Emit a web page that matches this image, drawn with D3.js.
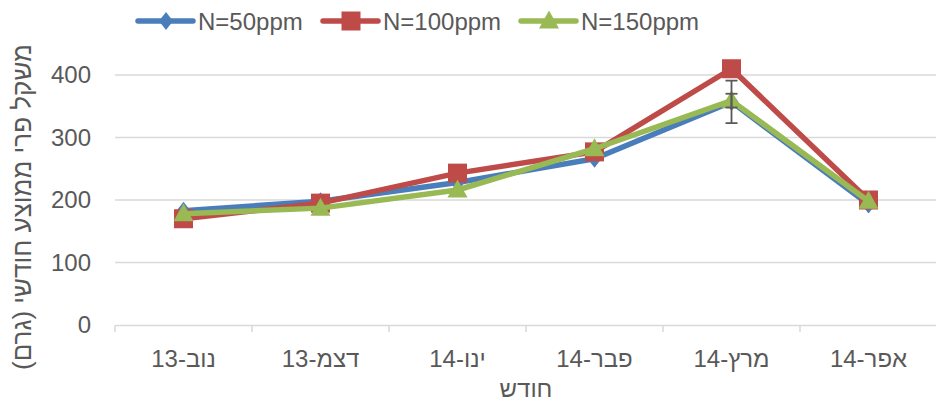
<!DOCTYPE html>
<html>
<head>
<meta charset="utf-8">
<script src="https://cdn.jsdelivr.net/npm/d3@7"></script>
<style>
  html, body { margin: 0; padding: 0; background: #fff; }
  svg { display: block; font-family: "Liberation Sans", Arial, sans-serif; }
</style>
</head>
<body>
<svg id="chart" width="936" height="403"></svg>
<script>
// Monthly mean fruit weight (g) by nitrogen level
const months = ["נוב-13", "דצמ-13", "ינו-14", "פבר-14", "מרץ-14", "אפר-14"];
const seriesNames = ["N=50ppm", "N=100ppm", "N=150ppm"];
const n50 = [183, 198, 228, 266, 357, 193];
const n100 = [170, 195, 243, 277, 410, 200];
const n150 = [178, 187, 216, 282, 359, 198];
// Standard error per month (0 = no bar drawn)
const err50 = [0, 0, 0, 0, 34, 0];
const err100 = [0, 0, 0, 0, 0, 0];
const err150 = [0, 0, 0, 0, 11, 0];
const yTicks = [0, 100, 200, 300, 400];
const yTitle = "משקל פרי ממוצע חודשי (גרם)";
const xTitle = "חודש";

const colors = ["#4A7EBB", "#BE4B48", "#98B954"];
const symbols = ["diamond", "square", "triangle"];
const textColor = "#595959";
const gridColor = "#D9D9D9";

const series = [
  { name: seriesNames[0], values: n50, err: err50 },
  { name: seriesNames[1], values: n100, err: err100 },
  { name: seriesNames[2], values: n150, err: err150 }
];

const svg = d3.select("#chart");
const plot = { left: 115, right: 937, top: 75, bottom: 325 };

const x = d3.scaleBand().domain(months).range([plot.left, plot.right]);
const y = d3.scaleLinear().domain([0, 400]).range([plot.bottom, plot.top]);
const cx = m => x(m) + x.bandwidth() / 2;

// Horizontal gridlines
svg.append("g")
  .selectAll("line")
  .data(yTicks.filter(d => d > 0))
  .join("line")
  .attr("x1", plot.left).attr("x2", plot.right)
  .attr("y1", d => y(d)).attr("y2", d => y(d))
  .attr("stroke", gridColor).attr("stroke-width", 1.5);

// Y axis labels
const yAxis = svg.append("g")
  .attr("transform", `translate(${plot.left},0)`)
  .call(d3.axisLeft(y).tickValues(yTicks).tickSize(0).tickPadding(24));
yAxis.select(".domain").remove();
yAxis.selectAll("text")
  .attr("fill", textColor)
  .style("font-size", "24px");

// X axis with ticks at category boundaries
const xAxis = svg.append("g")
  .attr("transform", `translate(0,${plot.bottom})`)
  .call(d3.axisBottom(x).tickSize(0).tickPadding(25));
xAxis.select(".domain")
  .attr("stroke", gridColor).attr("stroke-width", 1.5);
xAxis.selectAll("text")
  .attr("fill", textColor)
  .style("font-size", "24px")
  .style("direction", "rtl");
const bounds = months.map(m => x(m)).concat([plot.right]);
svg.append("g")
  .selectAll("line")
  .data(bounds)
  .join("line")
  .attr("x1", d => d).attr("x2", d => d)
  .attr("y1", plot.bottom).attr("y2", plot.bottom + 7)
  .attr("stroke", gridColor).attr("stroke-width", 1.5);

// Axis titles
svg.append("text")
  .attr("x", 526).attr("y", 397)
  .attr("text-anchor", "middle")
  .attr("fill", textColor)
  .style("font-size", "24px")
  .style("direction", "rtl")
  .text(xTitle);

svg.append("text")
  .attr("transform", `translate(31,${(plot.top + plot.bottom) / 2 + 7}) rotate(-90)`)
  .attr("text-anchor", "middle")
  .attr("fill", textColor)
  .style("font-size", "26px")
  .style("direction", "rtl")
  .text(yTitle);

// Marker shapes
function marker(sel, kind, color, px, py) {
  if (kind === "diamond") {
    sel.append("path")
      .attr("d", `M${px},${py - 9}L${px + 7},${py}L${px},${py + 9}L${px - 7},${py}Z`)
      .attr("fill", color);
  } else if (kind === "square") {
    sel.append("rect")
      .attr("x", px - 9.5).attr("y", py - 9.5)
      .attr("width", 19).attr("height", 19)
      .attr("fill", color);
  } else {
    sel.append("path")
      .attr("d", `M${px},${py - 10.5}L${px + 10},${py + 7.5}L${px - 10},${py + 7.5}Z`)
      .attr("fill", color);
  }
}

const line = d3.line()
  .x((d, i) => cx(months[i]))
  .y(d => y(d));

// Series lines and markers
series.forEach((s, k) => {
  const g = svg.append("g");
  g.append("path")
    .datum(s.values)
    .attr("d", line)
    .attr("fill", "none")
    .attr("stroke", colors[k])
    .attr("stroke-width", 5.5)
    .attr("stroke-linejoin", "round")
    .attr("stroke-linecap", "round");
  s.values.forEach((v, i) => marker(g, symbols[k], colors[k], cx(months[i]), y(v)));
});

// Error bars
const eg = svg.append("g")
  .attr("stroke", "#595959").attr("stroke-width", 1.8).attr("fill", "none");
series.forEach(s => {
  s.values.forEach((v, i) => {
    const e = s.err[i];
    if (!e) return;
    const px = cx(months[i]);
    const y1 = y(v + e), y2 = y(v - e);
    eg.append("line").attr("x1", px).attr("x2", px).attr("y1", y1).attr("y2", y2);
    eg.append("line").attr("x1", px - 6).attr("x2", px + 6).attr("y1", y1).attr("y2", y1);
    eg.append("line").attr("x1", px - 6).attr("x2", px + 6).attr("y1", y2).attr("y2", y2);
  });
});

// Legend
const legendX = [138, 323, 521];
const legend = svg.append("g");
series.forEach((s, k) => {
  const lx = legendX[k];
  const ly = 21;
  legend.append("line")
    .attr("x1", lx).attr("x2", lx + 55)
    .attr("y1", ly).attr("y2", ly)
    .attr("stroke", colors[k]).attr("stroke-width", 5.5)
    .attr("stroke-linecap", "round");
  marker(legend, symbols[k], colors[k], lx + 28, ly);
  legend.append("text")
    .attr("x", lx + 60).attr("y", ly + 8.5)
    .attr("fill", textColor)
    .style("font-size", "24px")
    .text(s.name);
});
</script>
</body>
</html>
